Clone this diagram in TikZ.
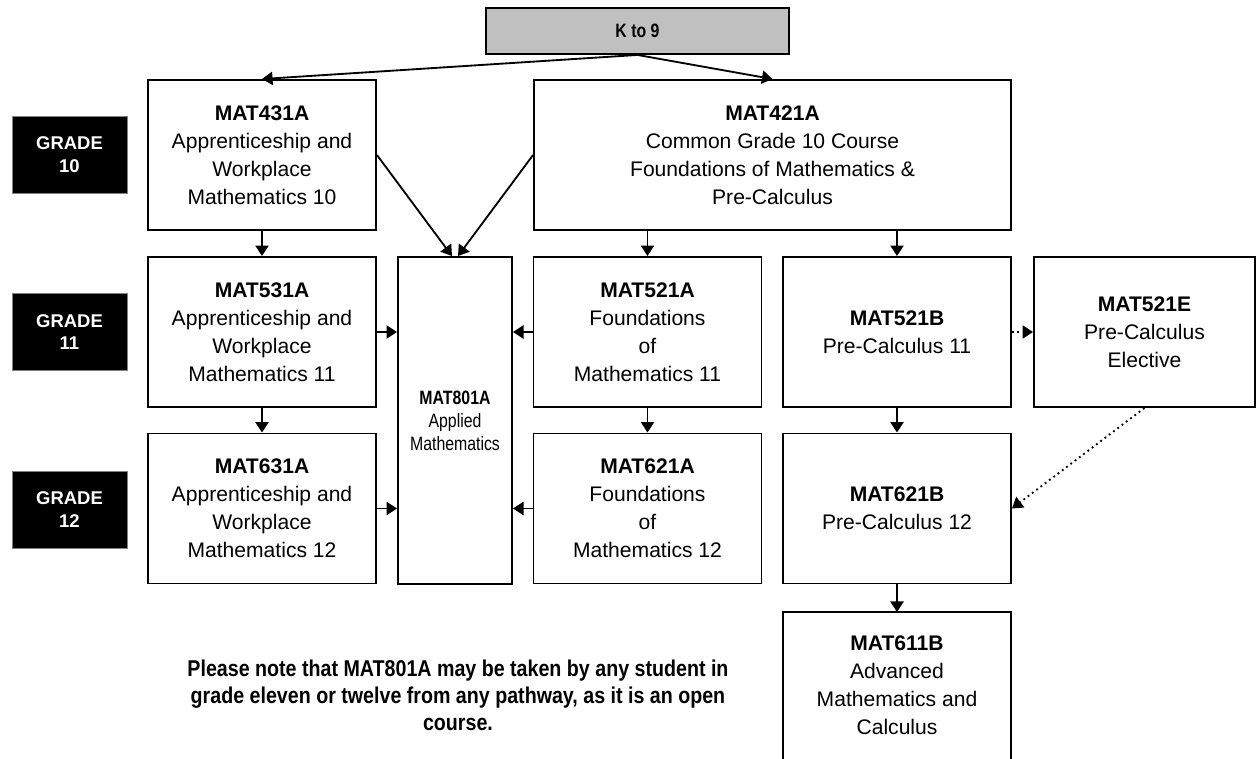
\documentclass[tikz,border=0pt]{standalone}
\usepackage{fontspec}
\setmainfont{Liberation Sans}
\newfontfamily\narrowfont[FakeStretch=0.82]{Liberation Sans}
\newfontfamily\notefont[FakeStretch=0.86]{Liberation Sans}
\usetikzlibrary{calc,arrows.meta}
\definecolor{kgrey}{RGB}{192,192,192}
\tikzset{
  course/.style={draw, line width=1.1pt, align=center, inner sep=2pt,
    minimum width=4.56cm, minimum height=3cm, font=\fontsize{12}{15.9}\selectfont},
  gradebox/.style={draw=gray, fill=black, text=white, align=center,
    minimum width=2.3cm, minimum height=1.54cm, font=\bfseries\fontsize{10.5}{13}\selectfont},
  link/.style={line width=1.05pt, -{Triangle[length=6pt,width=7.5pt]}},
  optlink/.style={link, dotted},
}

\begin{document}
\begin{tikzpicture}[x=0.02cm, y=-0.02cm]
\useasboundingbox (0,0) rectangle (1257,759);

\node[draw, line width=1.1pt, fill=kgrey, minimum width=6.06cm, minimum height=0.92cm,
  font=\narrowfont\bfseries\fontsize{11}{13}\selectfont] (k9) at (637.5,31) {K to 9};

% grade 10
\node[gradebox] (g10) at (69.5,155) {GRADE\\10};
\node[course] (m431) at (262,155) {\textbf{MAT431A}\\Apprenticeship and\\Workplace\\Mathematics 10};
\node[course, minimum width=9.54cm] (m421) at (772.5,155) {\textbf{MAT421A}\\Common Grade 10 Course\\Foundations of Mathematics \&\\Pre-Calculus};

% grade 11
\node[gradebox] (g11) at (69.5,332) {GRADE\\11};
\node[course] (m531) at (262,332) {\textbf{MAT531A}\\Apprenticeship and\\Workplace\\Mathematics 11};
\node[course, minimum width=2.28cm, minimum height=6.54cm,
  font=\narrowfont\fontsize{11}{13.1}\selectfont] (m801) at (455,420.5) {\textbf{MAT801A}\\Applied\\Mathematics};
\node[course] (m521a) at (647.5,332) {\textbf{MAT521A}\\Foundations\\of\\Mathematics 11};
\node[course] (m521b) at (897,332) {\textbf{MAT521B}\\Pre-Calculus 11};
\node[course, minimum width=4.42cm] (m521e) at (1144.5,332) {\textbf{MAT521E}\\Pre-Calculus\\Elective};

% grade 12
\node[gradebox] (g12) at (69.5,509.5) {GRADE\\12};
\node[course] (m631) at (262,508.5) {\textbf{MAT631A}\\Apprenticeship and\\Workplace\\Mathematics 12};
\node[course] (m621a) at (647.5,508.5) {\textbf{MAT621A}\\Foundations\\of\\Mathematics 12};
\node[course] (m621b) at (897,508.5) {\textbf{MAT621B}\\Pre-Calculus 12};
\node[course, draw=none, outer sep=0pt, minimum height=2.92cm] (m611b) at (897,685) {\textbf{MAT611B}\\Advanced\\Mathematics and\\Calculus};
% box runs off the page
\draw[line width=1.1pt] (m611b.north west) rectangle ($(m611b.south east)+(0,14)$);

\node[align=center, font=\notefont\bfseries\fontsize{13}{15.4}\selectfont] (note) at (458,695)
  {Please note that MAT801A may be taken by any student in\\grade eleven or twelve from any pathway, as it is an open\\course.};

\draw[link] (k9.south) -- (m431.north);
\draw[link] (k9.south) -- (m421.north);
\draw[link] (m431.east) -- ($(m801.north)+(-3,0)$);
\draw[link] (m421.west) -- ($(m801.north)+(3,0)$);

\draw[link] (m431) -- (m531);
\draw[link] (m531) -- (m631);
\draw[link] (m421.south -| m521a.north) -- (m521a.north);
\draw[link] (m421.south -| m521b.north) -- (m521b.north);
\draw[link] (m521a) -- (m621a);
\draw[link] (m521b) -- (m621b);
\draw[link] (m621b) -- (m611b);

\draw[link] (m531.east) -- (m531.east -| m801.west);
\draw[link] (m631.east) -- (m631.east -| m801.west);
\draw[link] (m521a.west) -- (m521a.west -| m801.east);
\draw[link] (m621a.west) -- (m621a.west -| m801.east);

\draw[optlink] (m521b.east) -- (m521e.west);
\draw[optlink] (m521e.south) -- (m621b.east);
\end{tikzpicture}
\end{document}
